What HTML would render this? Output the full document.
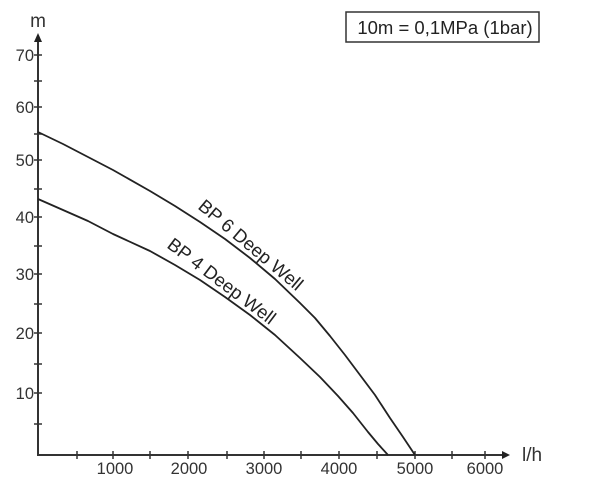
<!DOCTYPE html>
<html><head><meta charset="utf-8"><style>
html,body{margin:0;padding:0;background:#fff;}
svg{display:block;font-family:"Liberation Sans",sans-serif;}
</style></head><body>
<svg width="600" height="483" viewBox="0 0 600 483">
<g stroke="#333" stroke-width="2" fill="none">
<line x1="38" y1="455" x2="38" y2="40"/>
<line x1="37" y1="455" x2="506" y2="455"/>
</g>
<polygon points="38,33 34,42 42,42" fill="#222"/>
<polygon points="510,455 502,451 502,459" fill="#222"/>
<g stroke="#333" stroke-width="1.5">
<line x1="34" y1="55" x2="42" y2="55"/><line x1="34" y1="81" x2="42" y2="81"/>
<line x1="34" y1="107" x2="42" y2="107"/><line x1="34" y1="134" x2="42" y2="134"/>
<line x1="34" y1="160" x2="42" y2="160"/><line x1="34" y1="189" x2="42" y2="189"/>
<line x1="34" y1="217" x2="42" y2="217"/><line x1="34" y1="246" x2="42" y2="246"/>
<line x1="34" y1="274" x2="42" y2="274"/><line x1="34" y1="304" x2="42" y2="304"/>
<line x1="34" y1="333" x2="42" y2="333"/><line x1="34" y1="364" x2="42" y2="364"/>
<line x1="34" y1="393" x2="42" y2="393"/><line x1="34" y1="424" x2="42" y2="424"/>
<line x1="77" y1="451" x2="77" y2="459"/><line x1="113" y1="451" x2="113" y2="459"/>
<line x1="150" y1="451" x2="150" y2="459"/><line x1="188" y1="451" x2="188" y2="459"/>
<line x1="227" y1="451" x2="227" y2="459"/><line x1="264" y1="451" x2="264" y2="459"/>
<line x1="301" y1="451" x2="301" y2="459"/><line x1="339" y1="451" x2="339" y2="459"/>
<line x1="377" y1="451" x2="377" y2="459"/><line x1="415" y1="451" x2="415" y2="459"/>
<line x1="452" y1="451" x2="452" y2="459"/><line x1="485" y1="451" x2="485" y2="459"/>
</g>
<g fill="#333" font-size="16.5" text-anchor="end">
<text x="34" y="61">70</text><text x="34" y="113">60</text><text x="34" y="166">50</text>
<text x="34" y="223">40</text><text x="34" y="280">30</text><text x="34" y="339">20</text>
<text x="34" y="399">10</text>
</g>
<g fill="#333" font-size="16.5" text-anchor="middle">
<text x="115" y="474">1000</text><text x="189" y="474">2000</text><text x="264" y="474">3000</text>
<text x="339" y="474">4000</text><text x="415" y="474">5000</text><text x="485" y="474">6000</text>
</g>
<text x="38" y="27" font-size="19" fill="#333" text-anchor="middle">m</text>
<text x="522" y="461" font-size="19" fill="#333">l/h</text>
<rect x="346" y="12" width="193" height="30" fill="none" stroke="#333" stroke-width="1.5"/>
<text x="445" y="34" font-size="18.5" fill="#222" text-anchor="middle">10m = 0,1MPa (1bar)</text>
<polyline fill="none" stroke="#222" stroke-width="1.8" stroke-linejoin="round" points="38,132 63,144 88,157 113,170 150,191 175,206 200,222 225,239 250,258 275,279 300,303 315,318 330,336 345,355 360,375 375,395 390,418 403,437 415,455"/>
<polyline fill="none" stroke="#222" stroke-width="1.8" stroke-linejoin="round" points="38,199 63,210 88,221 113,234 150,251 175,265 200,280 225,297 250,315 275,335 300,358 320,377 338,396 353,413 368,432 378,444 388,455"/>
<text font-size="18.5" fill="#222" transform="translate(197,208) rotate(40)">BP 6 Deep Well</text>
<text font-size="18.5" fill="#222" transform="translate(166,247) rotate(37)">BP 4 Deep Well</text>
</svg>
</body></html>
